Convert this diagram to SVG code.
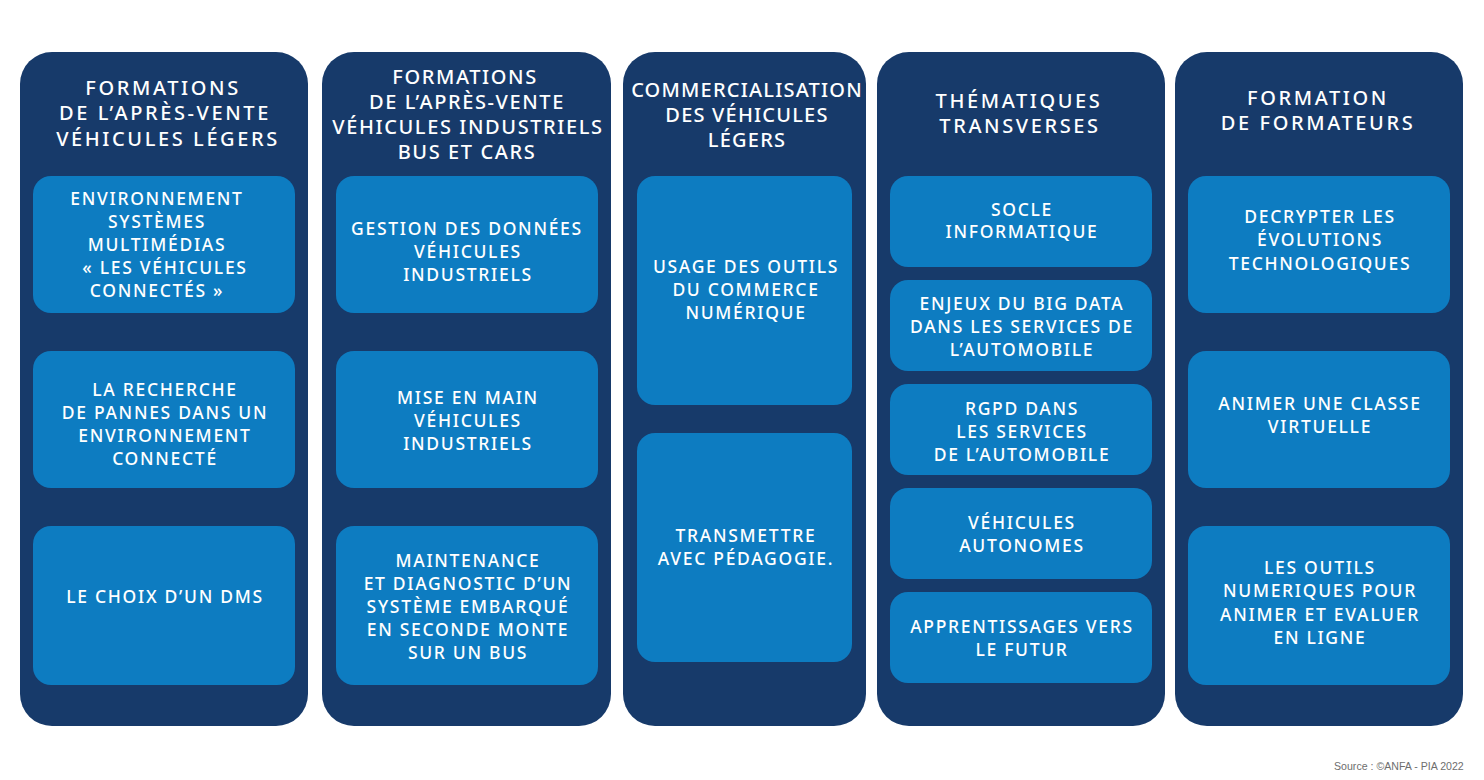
<svg xmlns="http://www.w3.org/2000/svg" width="1484" height="780" viewBox="0 0 1484 780">
<style>
.col{fill:#173a6a}
.box{fill:#0d7cc1}
.h{font-family:"Noto Sans","Liberation Sans",sans-serif;font-size:20px;font-weight:500;fill:#fff;text-anchor:middle;letter-spacing:2.6px}
.h2{letter-spacing:1.6px}
.h3{letter-spacing:1.2px}
.t{font-family:"Noto Sans","Liberation Sans",sans-serif;font-size:17.5px;font-weight:500;fill:#fff;text-anchor:middle;letter-spacing:1.7px}
.src{font-family:"Liberation Sans",Arial,sans-serif;font-size:10.6px;fill:#6e6e6e}
</style>
<rect width="1484" height="780" fill="#fff"/>
<g id="col1">
<rect class="col" x="20" y="52" width="288" height="674" rx="32"/>
<text class="h"><tspan x="163" y="95">FORMATIONS</tspan><tspan x="165" y="120">DE L’APRÈS-VENTE</tspan><tspan x="168" y="146">VÉHICULES LÉGERS</tspan></text>
<g id="c1b1"><rect class="box" x="33" y="176" width="262" height="137" rx="18"/>
<text class="t"><tspan x="157" y="205">ENVIRONNEMENT</tspan><tspan x="157" y="228">SYSTÈMES</tspan><tspan x="157" y="251">MULTIMÉDIAS</tspan><tspan x="165" y="274">« LES VÉHICULES</tspan><tspan x="157" y="297">CONNECTÉS »</tspan></text></g>
<g id="c1b2"><rect class="box" x="33" y="351" width="262" height="137" rx="18"/>
<text class="t"><tspan x="165" y="396">LA RECHERCHE</tspan><tspan x="165" y="419">DE PANNES DANS UN</tspan><tspan x="165" y="442">ENVIRONNEMENT</tspan><tspan x="165" y="465">CONNECTÉ</tspan></text></g>
<g id="c1b3"><rect class="box" x="33" y="526" width="262" height="159" rx="18"/>
<text class="t"><tspan x="165" y="603">LE CHOIX D’UN DMS</tspan></text></g>
</g>
<g id="col2">
<rect class="col" x="322" y="52" width="289" height="674" rx="32"/>
<text class="h h2"><tspan x="465" y="84">FORMATIONS</tspan><tspan x="467" y="109">DE L’APRÈS-VENTE</tspan><tspan x="468" y="134">VÉHICULES INDUSTRIELS</tspan><tspan x="467" y="159">BUS ET CARS</tspan></text>
<g id="c2b1"><rect class="box" x="336" y="176" width="262" height="137" rx="18"/>
<text class="t"><tspan x="467" y="235">GESTION DES DONNÉES</tspan><tspan x="468" y="258">VÉHICULES</tspan><tspan x="468" y="281">INDUSTRIELS</tspan></text></g>
<g id="c2b2"><rect class="box" x="336" y="351" width="262" height="137" rx="18"/>
<text class="t"><tspan x="468" y="404">MISE EN MAIN</tspan><tspan x="468" y="427">VÉHICULES</tspan><tspan x="468" y="450">INDUSTRIELS</tspan></text></g>
<g id="c2b3"><rect class="box" x="336" y="526" width="262" height="159" rx="18"/>
<text class="t"><tspan x="468" y="567">MAINTENANCE</tspan><tspan x="468" y="590">ET DIAGNOSTIC D’UN</tspan><tspan x="468" y="613">SYSTÈME EMBARQUÉ</tspan><tspan x="468" y="636">EN SECONDE MONTE</tspan><tspan x="468" y="659">SUR UN BUS</tspan></text></g>
</g>
<g id="col3">
<rect class="col" x="623" y="52" width="243" height="674" rx="32"/>
<text class="h h3"><tspan x="747" y="97">COMMERCIALISATION</tspan><tspan x="747" y="122">DES VÉHICULES</tspan><tspan x="747" y="147">LÉGERS</tspan></text>
<g id="c3b1"><rect class="box" x="637" y="176" width="215" height="229" rx="18"/>
<text class="t"><tspan x="746" y="273">USAGE DES OUTILS</tspan><tspan x="746" y="296">DU COMMERCE</tspan><tspan x="746" y="319">NUMÉRIQUE</tspan></text></g>
<g id="c3b2"><rect class="box" x="637" y="433" width="215" height="229" rx="18"/>
<text class="t"><tspan x="746" y="542">TRANSMETTRE</tspan><tspan x="746" y="565">AVEC PÉDAGOGIE.</tspan></text></g>
</g>
<g id="col4">
<rect class="col" x="877" y="52" width="288" height="674" rx="32"/>
<text class="h"><tspan x="1019" y="108">THÉMATIQUES</tspan><tspan x="1020" y="133">TRANSVERSES</tspan></text>
<g id="c4b1"><rect class="box" x="890" y="176" width="262" height="91" rx="18"/>
<text class="t"><tspan x="1022" y="216">SOCLE</tspan><tspan x="1022" y="238">INFORMATIQUE</tspan></text></g>
<g id="c4b2"><rect class="box" x="890" y="280" width="262" height="91" rx="18"/>
<text class="t"><tspan x="1022" y="310">ENJEUX DU BIG DATA</tspan><tspan x="1022" y="333">DANS LES SERVICES DE</tspan><tspan x="1022" y="356">L’AUTOMOBILE</tspan></text></g>
<g id="c4b3"><rect class="box" x="890" y="384" width="262" height="91" rx="18"/>
<text class="t"><tspan x="1022" y="415">RGPD DANS</tspan><tspan x="1022" y="438">LES SERVICES</tspan><tspan x="1022" y="461">DE L’AUTOMOBILE</tspan></text></g>
<g id="c4b4"><rect class="box" x="890" y="488" width="262" height="91" rx="18"/>
<text class="t"><tspan x="1022" y="529">VÉHICULES</tspan><tspan x="1022" y="552">AUTONOMES</tspan></text></g>
<g id="c4b5"><rect class="box" x="890" y="592" width="262" height="91" rx="18"/>
<text class="t"><tspan x="1022" y="633">APPRENTISSAGES VERS</tspan><tspan x="1022" y="656">LE FUTUR</tspan></text></g>
</g>
<g id="col5">
<rect class="col" x="1175" y="52" width="288" height="674" rx="32"/>
<text class="h"><tspan x="1318" y="105">FORMATION</tspan><tspan x="1318" y="130">DE FORMATEURS</tspan></text>
<g id="c5b1"><rect class="box" x="1188" y="176" width="262" height="137" rx="18"/>
<text class="t"><tspan x="1320" y="223">DECRYPTER LES</tspan><tspan x="1320" y="246">ÉVOLUTIONS</tspan><tspan x="1320" y="270">TECHNOLOGIQUES</tspan></text></g>
<g id="c5b2"><rect class="box" x="1188" y="351" width="262" height="137" rx="18"/>
<text class="t"><tspan x="1320" y="410">ANIMER UNE CLASSE</tspan><tspan x="1320" y="433">VIRTUELLE</tspan></text></g>
<g id="c5b3"><rect class="box" x="1188" y="526" width="262" height="159" rx="18"/>
<text class="t"><tspan x="1320" y="574">LES OUTILS</tspan><tspan x="1320" y="597">NUMERIQUES POUR</tspan><tspan x="1320" y="621">ANIMER ET EVALUER</tspan><tspan x="1320" y="644">EN LIGNE</tspan></text></g>
</g>
<g id="connectors"></g>
<text class="src" x="1334" y="770">Source : ©ANFA - PIA 2022</text>
</svg>
